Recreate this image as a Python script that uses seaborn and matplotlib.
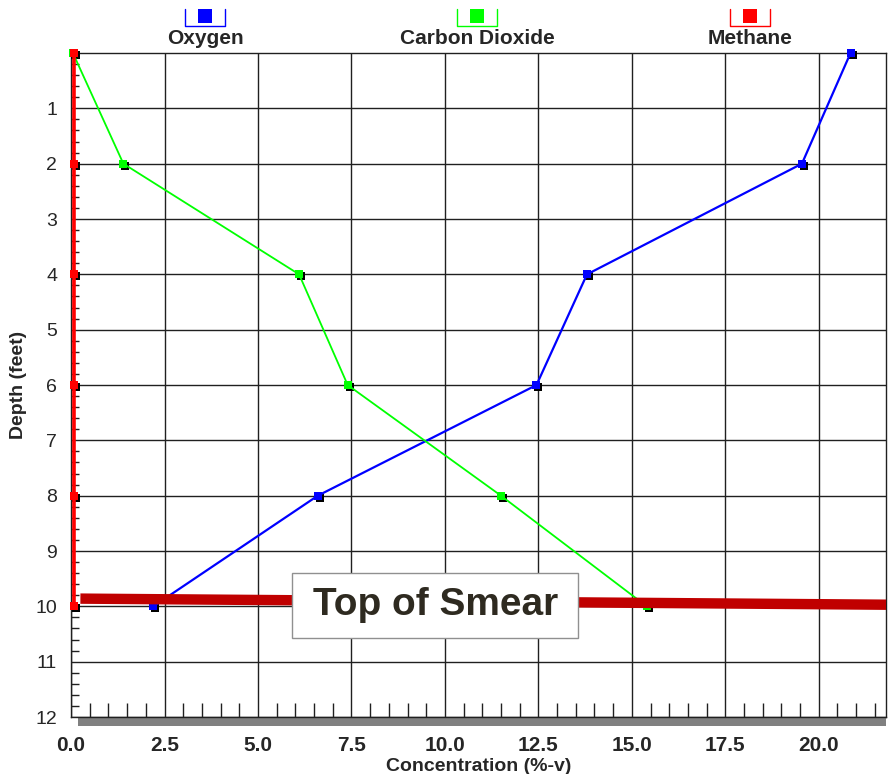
import matplotlib
matplotlib.use("Agg")
import matplotlib.pyplot as plt
import matplotlib.transforms as mtransforms
import seaborn as sns
import pandas as pd
from matplotlib.patches import Rectangle
from matplotlib.lines import Line2D
from matplotlib.ticker import MultipleLocator, FormatStrFormatter

# data
depth = [0, 2, 4, 6, 8, 10]
oxygen = [20.85, 19.55, 13.8, 12.45, 6.6, 2.2]
carbon_dioxide = [0.05, 1.4, 6.1, 7.4, 11.5, 15.4]
methane = [0.08, 0.08, 0.08, 0.08, 0.08, 0.08]
gas_names = ["Oxygen", "Carbon Dioxide", "Methane"]
gas_colors = ["#0000FF", "#00FF00", "#FF0000"]

x_ticks = [0.0, 2.5, 5.0, 7.5, 10.0, 12.5, 15.0, 17.5, 20.0]
y_ticks = [1, 2, 3, 4, 5, 6, 7, 8, 9, 10, 11, 12]

smear_x = [0.25, 21.8]
smear_depth = [9.86, 9.97]
smear_label = "Top of Smear"

df = pd.DataFrame({
    "depth": depth * 3,
    "conc": oxygen + carbon_dioxide + methane,
    "gas": [g for g in gas_names for _ in depth],
})

sns.set_style("white")
plt.rcParams["font.family"] = ["Liberation Sans", "DejaVu Sans"]

fig = plt.figure(figsize=(8.88, 7.74), dpi=100)
ax = fig.add_axes([0.0800, 0.0736, 0.9178, 0.8579])

# black drop shadow under each marker
shadow = ax.transData + mtransforms.ScaledTranslation(2 / 100, -2 / 100, fig.dpi_scale_trans)
line_widths = {"Oxygen": 1.6, "Carbon Dioxide": 1.3, "Methane": 2.6}
for name, color in zip(gas_names, gas_colors):
    sub = df[df["gas"] == name]
    ax.plot(sub["conc"], sub["depth"], "s", color="black", ms=6, mew=0,
            transform=shadow, zorder=3, clip_on=False)
    sns.lineplot(data=sub, x="conc", y="depth", sort=False, estimator=None,
                 color=color, lw=line_widths[name], marker="s", ms=6, mew=0,
                 ax=ax, zorder=4, clip_on=False)

# top of smear line and label
ax.plot(smear_x, smear_depth, color="#C00000", lw=7.5, solid_capstyle="butt", zorder=5)
ax.add_patch(Rectangle((5.92, 9.40), 7.65, 1.18, facecolor="white",
                       edgecolor="#909090", lw=1, zorder=6))
ax.text(9.74, 9.98, smear_label, ha="center", va="center", fontsize=28,
        weight="bold", color="#2E2A20", zorder=7)

ax.set_xlim(0, 21.8)
ax.set_ylim(12, 0)
ax.set_xticks(x_ticks)
ax.set_yticks(y_ticks)
ax.xaxis.set_major_formatter(FormatStrFormatter("%.1f"))
ax.xaxis.set_minor_locator(MultipleLocator(0.5))
ax.yaxis.set_minor_locator(MultipleLocator(0.2))

ax.grid(True, which="major", color="#202020", lw=1)
ax.set_axisbelow(True)
for s in ax.spines.values():
    s.set_color("#202020")
    s.set_linewidth(1)

ax.tick_params(axis="y", which="major", direction="out", length=8, width=1,
               color="#202020", labelsize=14, pad=2)
ax.tick_params(axis="y", which="minor", direction="in", length=6, width=1,
               color="#202020", left=True)
ax.tick_params(axis="x", which="major", length=0, labelsize=15, pad=14)
ax.tick_params(axis="x", which="minor", direction="in", length=10, width=1,
               color="#202020", bottom=True)
for lbl in ax.get_xticklabels():
    lbl.set_fontweight("bold")

ax.set_xlabel("Concentration (%-v)", fontsize=14, weight="bold", labelpad=2)
ax.set_ylabel("Depth (feet)", fontsize=14, weight="bold", labelpad=6)

# gray bar under the bottom axis
ax.add_patch(Rectangle((0.19, -0.0136), 21.8 - 0.19, 0.012,
                       transform=ax.get_xaxis_transform(), facecolor="#808080",
                       edgecolor="none", clip_on=False))

# legend across the top: marker box above each label
for name, color, cx in zip(gas_names, gas_colors, [205, 477, 750]):
    fx = cx / 888
    hw = 20 / 888
    y_top, y_bot = 1 - 9 / 774, 1 - 26 / 774
    fig.add_artist(Line2D([fx - hw, fx - hw, fx + hw, fx + hw],
                          [y_top, y_bot, y_bot, y_top],
                          color=color, lw=1, transform=fig.transFigure))
    fig.add_artist(Rectangle((fx - 7 / 888, 1 - 23 / 774), 14 / 888, 14 / 774,
                             facecolor=color, edgecolor="none",
                             transform=fig.transFigure))
    fig.text(fx, 1 - 38 / 774, name, ha="center", va="center", fontsize=15,
             weight="bold")

fig.savefig("out.png", dpi=100)
